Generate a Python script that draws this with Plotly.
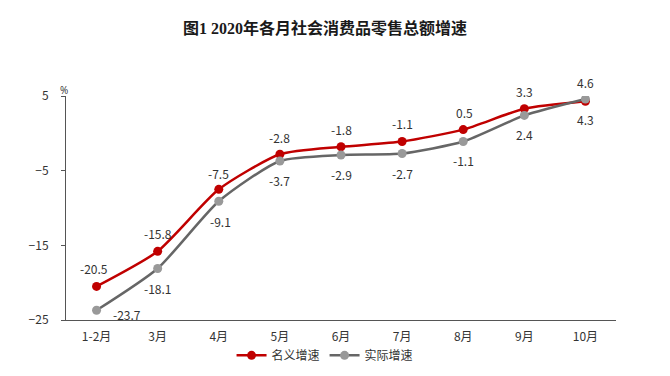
import plotly.graph_objects as go

categories = ["1-2月", "3月", "4月", "5月", "6月", "7月", "8月", "9月", "10月"]
nominal = [-20.5, -15.8, -7.5, -2.8, -1.8, -1.1, 0.5, 3.3, 4.3]
real = [-23.7, -18.1, -9.1, -3.7, -2.9, -2.7, -1.1, 2.4, 4.6]
y_ticks = [5, -5, -15, -25]

# label offsets (pixels) - styling only
nom_off = [(-3, 18), (0, 18), (0, 16), (0, 17), (0, 17), (0, 18), (1, 17), (0, 17), (0, -18)]
real_off = [(30, -4), (0, -20), (2, -20), (0, -20), (0, -20), (0, -20), (0, -19), (0, -19), (0, 16)]

RED = "#C00000"
GRAY_LINE = "#666666"
GRAY_MK = "#999999"
TXT = "#333333"

fig = go.Figure()
fig.add_trace(go.Scatter(
    x=categories, y=nominal, name="名义增速", mode="lines+markers",
    line=dict(color=RED, width=2.5, shape="spline", smoothing=0.6),
    marker=dict(color=RED, size=9),
))
fig.add_trace(go.Scatter(
    x=categories, y=real, name="实际增速", mode="lines+markers",
    line=dict(color=GRAY_LINE, width=2.5, shape="spline", smoothing=0.6),
    marker=dict(color=GRAY_MK, size=9),
))

anns = []
for c, v, (dx, dy) in zip(categories, nominal, nom_off):
    anns.append(dict(x=c, y=v, text=f"{v:.1f}", showarrow=False, xshift=dx, yshift=dy,
                     font=dict(size=12, color=TXT, family="Noto Sans CJK SC")))
for c, v, (dx, dy) in zip(categories, real, real_off):
    anns.append(dict(x=c, y=v, text=f"{v:.1f}", showarrow=False, xshift=dx, yshift=dy,
                     font=dict(size=12, color=TXT, family="Noto Sans CJK SC")))
anns.append(dict(x=0, y=1, xref="paper", yref="paper", text="%", showarrow=False,
                 xshift=-8, yshift=15, font=dict(size=10, color=TXT)))

fig.update_layout(
    width=670, height=376,
    margin=dict(l=58, r=62, t=88, b=64, autoexpand=False),
    paper_bgcolor="white", plot_bgcolor="white",
    title=dict(text="<b>图1 2020年各月社会消费品零售总额增速</b>", x=0.473, xanchor="center",
               y=0.945, yanchor="middle",
               font=dict(size=16, color="#1a1a1a", family="Liberation Serif, Noto Sans CJK SC")),
    xaxis=dict(type="category", showline=True, linecolor="#555555", linewidth=1, automargin=False,
               ticks="", showgrid=False, ticklabelstandoff=6,
               tickfont=dict(size=12, color=TXT, family="Noto Sans CJK SC"),
               range=[-0.5, 8.5]),
    yaxis=dict(range=[-25, 5], tickvals=y_ticks, showline=True, linecolor="#555555", linewidth=1,
               automargin=False, ticklabelstandoff=10,
               ticks="outside", ticklen=4, tickcolor="#555555", showgrid=False, zeroline=False,
               tickfont=dict(size=12, color=TXT, family="Noto Sans CJK SC")),
    legend=dict(orientation="h", x=0.471, xanchor="center", y=-0.093, yanchor="top",
                bgcolor="rgba(0,0,0,0)",
                font=dict(size=12, color=TXT, family="Noto Sans CJK SC"), itemwidth=30,
                tracegroupgap=0),
    annotations=anns,
    showlegend=True,
)
fig.write_html("out.html")
